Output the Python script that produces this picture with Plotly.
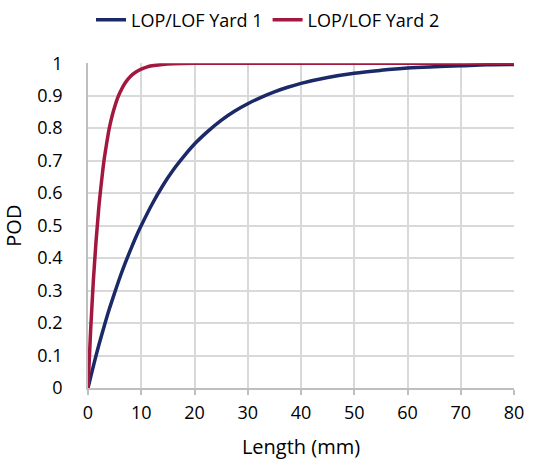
import plotly.graph_objects as go

# Data
yard1_length = [0, 1, 2, 3, 4, 5, 6, 7, 8, 9, 10, 12, 14, 16, 18, 20, 22.5, 25, 27.5, 30,
                32.5, 35, 37.5, 40, 45, 50, 55, 60, 65, 70, 75, 80]
yard1_pod = [0, 0.067, 0.13, 0.188, 0.243, 0.293, 0.341, 0.385, 0.426, 0.465, 0.50, 0.565,
             0.622, 0.671, 0.713, 0.751, 0.79, 0.824, 0.852, 0.875, 0.895, 0.912, 0.926, 0.938,
             0.956, 0.969, 0.978, 0.985, 0.989, 0.992, 0.995, 0.996]

yard2_length = [0, 0.5, 1, 1.5, 2, 2.5, 3, 3.5, 4, 4.5, 5, 5.5, 6, 7, 8, 9, 10, 11, 12, 14,
                16, 20, 30, 50, 80]
yard2_pod = [0, 0.18, 0.33, 0.45, 0.55, 0.63, 0.70, 0.753, 0.80, 0.836, 0.865, 0.89, 0.91,
             0.94, 0.96, 0.973, 0.982, 0.988, 0.992, 0.996, 0.998, 0.9995, 1.0, 1.0, 1.0]

x_ticks = [0, 10, 20, 30, 40, 50, 60, 70, 80]
y_ticks = [0, 0.1, 0.2, 0.3, 0.4, 0.5, 0.6, 0.7, 0.8, 0.9, 1]
y_tick_text = ["0", "0.1", "0.2", "0.3", "0.4", "0.5", "0.6", "0.7", "0.8", "0.9", "1"]

FONT = "Open Sans"

fig = go.Figure()
fig.add_trace(go.Scatter(x=yard1_length, y=yard1_pod, mode="lines", name="LOP/LOF Yard 1",
                         line=dict(color="#1B2A66", width=3.5, shape="spline", smoothing=1)))
fig.add_trace(go.Scatter(x=yard2_length, y=yard2_pod, mode="lines", name="LOP/LOF Yard 2",
                         line=dict(color="#A2183F", width=3.5, shape="spline", smoothing=1)))

fig.update_layout(
    width=536, height=467,
    margin=dict(l=88, r=13, t=49, b=79),
    paper_bgcolor="white", plot_bgcolor="white",
    font=dict(family=FONT, size=18, color="#000000"),
    legend=dict(orientation="h", x=0.5, xanchor="center", xref="container",
                y=1 - 20 / 467, yanchor="middle", yref="container",
                font=dict(family=FONT, size=18), traceorder="normal"),
    xaxis=dict(range=[0, 80], tickvals=x_ticks, showgrid=True, gridcolor="#D9D9D9", gridwidth=1.5,
               showline=True, linecolor="#BFBFBF", linewidth=1.5, ticks="outside", ticklen=5,
               tickcolor="#BFBFBF", tickwidth=1.5, zeroline=False, ticklabelstandoff=3,
               tickfont=dict(size=18),
               title=dict(text="Length (mm)", font=dict(family=FONT, size=20), standoff=17)),
    yaxis=dict(range=[0, 1], tickvals=y_ticks, ticktext=y_tick_text, showgrid=True,
               gridcolor="#D9D9D9", gridwidth=1.5, showline=True, linecolor="#BFBFBF",
               linewidth=1.5, zeroline=False, ticks="", ticklabelstandoff=20,
               tickfont=dict(size=18),
               title=dict(text="POD", font=dict(family=FONT, size=20), standoff=10)),
)

fig.write_html("out.html")
